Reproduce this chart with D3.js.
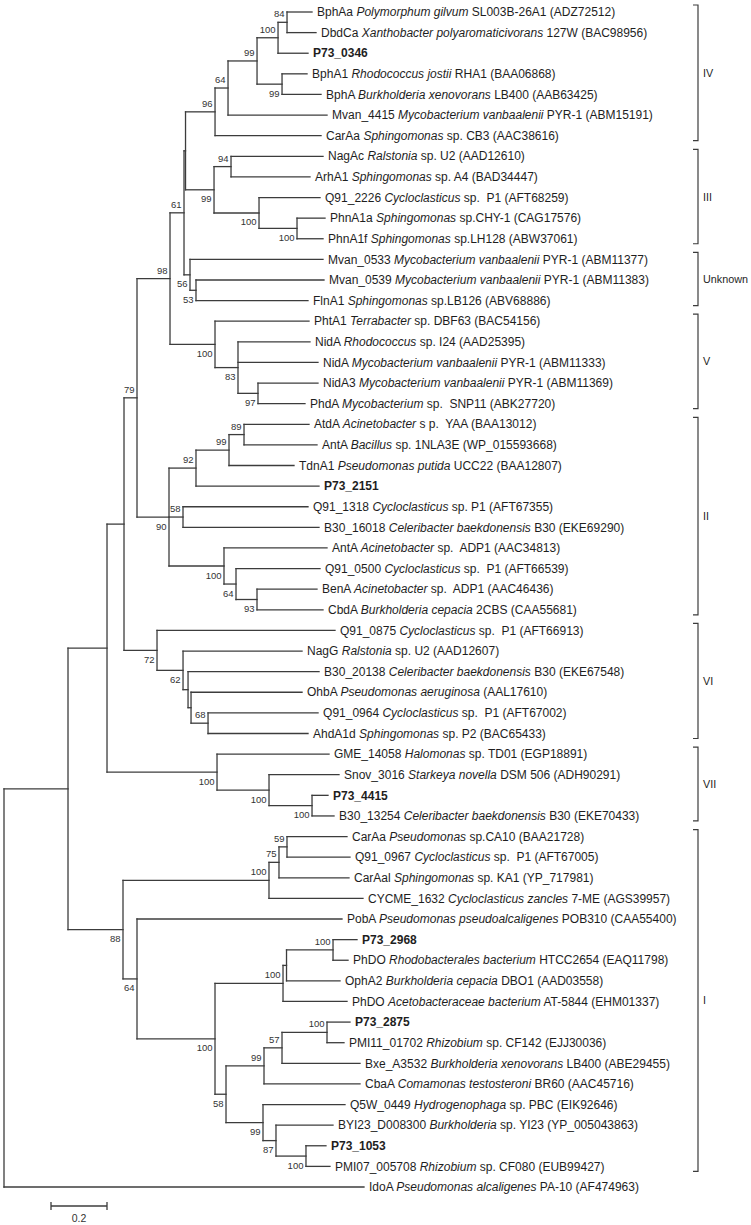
<!DOCTYPE html>
<html><head><meta charset="utf-8">
<script src="https://cdn.jsdelivr.net/npm/d3@7"></script>
<style>body{margin:0;background:#fff}svg{display:block}</style>
</head><body>
<script>
// ---------- DATA ----------
const leafGenes = ["BphAa","DbdCa","P73_0346","BphA1","BphA","Mvan_4415","CarAa","NagAc","ArhA1","Q91_2226","PhnA1a","PhnA1f","Mvan_0533","Mvan_0539","FlnA1","PhtA1","NidA","NidA","NidA3","PhdA","AtdA","AntA","TdnA1","P73_2151","Q91_1318","B30_16018","AntA","Q91_0500","BenA","CbdA","Q91_0875","NagG","B30_20138","OhbA","Q91_0964","AhdA1d","GME_14058","Snov_3016","P73_4415","B30_13254","CarAa","Q91_0967","CarAal","CYCME_1632","PobA","P73_2968","PhDO","OphA2","PhDO","P73_2875","PMI11_01702","Bxe_A3532","CbaA","Q5W_0449","BYI23_D008300","P73_1053","PMI07_005708","IdoA"];
const leafSpecies = ["Polymorphum gilvum","Xanthobacter polyaromaticivorans","","Rhodococcus jostii","Burkholderia xenovorans","Mycobacterium vanbaalenii","Sphingomonas","Ralstonia","Sphingomonas","Cycloclasticus","Sphingomonas","Sphingomonas","Mycobacterium vanbaalenii","Mycobacterium vanbaalenii","Sphingomonas","Terrabacter","Rhodococcus","Mycobacterium vanbaalenii","Mycobacterium vanbaalenii","Mycobacterium","Acinetobacter","Bacillus","Pseudomonas putida","","Cycloclasticus","Celeribacter baekdonensis","Acinetobacter","Cycloclasticus","Acinetobacter","Burkholderia cepacia","Cycloclasticus","Ralstonia","Celeribacter baekdonensis","Pseudomonas aeruginosa","Cycloclasticus","Sphingomonas","Halomonas","Starkeya novella","","Celeribacter baekdonensis","Pseudomonas","Cycloclasticus","Sphingomonas","Cycloclasticus zancles","Pseudomonas pseudoalcaligenes","","Rhodobacterales bacterium","Burkholderia cepacia","Acetobacteraceae bacterium","","Rhizobium","Burkholderia xenovorans","Comamonas testosteroni","Hydrogenophaga","Burkholderia","","Rhizobium","Pseudomonas alcaligenes"];
const leafStrains = ["SL003B-26A1 (ADZ72512)","127W (BAC98956)","","RHA1 (BAA06868)","LB400 (AAB63425)","PYR-1 (ABM15191)","sp. CB3 (AAC38616)","sp. U2 (AAD12610)","sp. A4 (BAD34447)","sp.  P1 (AFT68259)","sp.CHY-1 (CAG17576)","sp.LH128 (ABW37061)","PYR-1 (ABM11377)","PYR-1 (ABM11383)","sp.LB126 (ABV68886)","sp. DBF63 (BAC54156)","sp. I24 (AAD25395)","PYR-1 (ABM11333)","PYR-1 (ABM11369)","sp.  SNP11 (ABK27720)","s p.  YAA (BAA13012)","sp. 1NLA3E (WP_015593668)","UCC22 (BAA12807)","","sp. P1 (AFT67355)","B30 (EKE69290)","sp.  ADP1 (AAC34813)","sp.  P1 (AFT66539)","sp.  ADP1 (AAC46436)","2CBS (CAA55681)","sp.  P1 (AFT66913)","sp. U2 (AAD12607)","B30 (EKE67548)","(AAL17610)","sp.  P1 (AFT67002)","sp. P2 (BAC65433)","sp. TD01 (EGP18891)","DSM 506 (ADH90291)","","B30 (EKE70433)","sp.CA10 (BAA21728)","sp.  P1 (AFT67005)","sp. KA1 (YP_717981)","7-ME (AGS39957)","POB310 (CAA55400)","","HTCC2654 (EAQ11798)","DBO1 (AAD03558)","AT-5844 (EHM01337)","","sp. CF142 (EJJ30036)","LB400 (ABE29455)","BR60 (AAC45716)","sp. PBC (EIK92646)","sp. YI23 (YP_005043863)","","sp. CF080 (EUB99427)","PA-10 (AF474963)"];
const leafParents = ["n84","n84","n100a","n99b","n99b","n64a","n96","n94","n94","n100r","n100q","n100q","n56","n53","n53","n100V","n83","n83","n97","n97","n89","n89","n99c","n92","n58a","n58a","n100b","n64b","n93","n93","n72","n62","n188","n191","n68b","n68b","n100VII","n100c","n100d","n100d","n59","n59","n75","n100CarA","n64I","n100e","n100e","n286","n100PhDO","n100f","n100f","n57","n99d","n99e","n87","n100g","n100g","root"];
const leafLengths = [0.0893,0.1036,0.1071,0.0893,0.1393,0.3536,0.3786,0.3286,0.2821,0.2179,0.1,0.0929,0.475,0.4571,0.4,0.3357,0.2571,0.2857,0.2143,0.1679,0.2321,0.2607,0.2321,0.4393,0.4464,0.4857,0.3679,0.3,0.2143,0.2357,0.6357,0.425,0.4679,0.3964,0.3929,0.3571,0.4,0.25,0.0571,0.0786,0.2143,0.225,0.25,0.3357,0.7321,0.0857,0.0536,0.1911,0.2286,0.0821,0.0607,0.2786,0.3429,0.2929,0.2036,0.0714,0.0857,1.2857];

const internalIds     = ["root","n68","n107","n124","n79","n98","n61","nX","n96","n64a","n99a","n100a","n84","n99b","n99III","n94","n100r","n100q","n56","n53","n100V","n83","n97","n90","n92","n99c","n89","n58a","n100b","n64b","n93","n72","n62","n188","n191","n68b","n100VII","n100c","n100d","n88","n100CarA","n75","n59","n64I","n100big","n100PhDO","n286","n100e","n58b","n99d","n57","n100f","n99e","n87","n100g"];
const internalParents = ["","root","n68","n107","n124","n79","n98","n61","nX","n96","n64a","n99a","n100a","n99a","nX","n99III","n99III","n100r","n61","n56","n98","n100V","n83","n79","n90","n92","n99c","n90","n90","n100b","n64b","n124","n72","n62","n188","n191","n107","n100VII","n100c","n68","n88","n100CarA","n75","n88","n64I","n100big","n100PhDO","n286","n100big","n58b","n99d","n57","n58b","n99e","n87"];
const internalLengths = [0,0.2286,0.1393,0.0607,0.0464,0.1179,0.05,0.0054,0.1054,0.0464,0.1036,0.075,0.0321,0.0893,0.1018,0.0607,0.1607,0.1357,0.0214,0.0214,0.1607,0.0821,0.0714,0.1143,0.0964,0.1179,0.0536,0.05,0.1964,0.0429,0.075,0.1179,0.0929,0.0179,0.0107,0.0607,0.3929,0.1857,0.1536,0.1964,0.5214,0.0357,0.0286,0.05,0.2786,0.2429,0.0125,0.1661,0.0393,0.1357,0.0643,0.1607,0.1321,0.0464,0.1071];
const internalSupport = [null,null,null,null,79,98,61,null,96,64,99,100,84,99,99,94,100,100,56,53,100,83,97,90,92,99,89,58,100,64,93,72,62,null,null,68,100,100,100,88,100,75,59,64,100,100,null,100,58,99,57,100,99,87,100];
const supportBelowIds = ["n99b","n99III","n100r","n100q","n56","n53","n100V","n83","n97","n90","n100b","n64b","n93","n72","n62","n100VII","n100c","n100d","n88","n64I","n100big","n58b","n99e","n87","n100g"];

const groupNames = ["IV","III","Unknown","V","II","VI","VII","I"];
const groupFirst = [0,7,12,15,20,30,36,40];
const groupLast  = [6,11,14,19,29,35,39,56];
const scaleBarValue = 0.2;

// ---------- BUILD ----------
const W = 751, H = 1225;
const FONT = "Liberation Sans, Arial, sans-serif";
const svg = d3.select("body").append("svg").attr("width", W).attr("height", H);
const rows = internalIds.map((id,i)=>({id, parent: internalParents[i], len: internalLengths[i], support: internalSupport[i]}))
  .concat(leafGenes.map((g,i)=>({id:"L"+i, parent: leafParents[i], len: leafLengths[i], index:i})));
const root = d3.stratify().id(d=>d.id).parentId(d=>d.parent || null)(rows);
root.eachAfter(n => { n.minIdx = n.children ? d3.min(n.children, c=>c.minIdx) : n.data.index; });
root.sort((a,b)=>a.minIdx-b.minIdx);
root.eachBefore(n => { n.dist = n.parent ? n.parent.dist + n.data.len : 0; });

const x = d3.scaleLinear().domain([0,1]).range([4,284]);
const y = d3.scaleLinear().domain([0, leafGenes.length-1]).range([12, 1187]);
root.eachAfter(n => {
  n.py = n.children ? (n.children[0].py + n.children[n.children.length-1].py)/2 : y(n.data.index);
  n.px = x(n.dist);
});

const stroke = "#3c3c3c";
const g = svg.append("g").attr("stroke", stroke).attr("stroke-width", 1.3).attr("fill","none").attr("stroke-linecap","square");
root.descendants().forEach(n => {
  if (n.parent) g.append("line").attr("x1", n.parent.px).attr("x2", n.px).attr("y1", n.py).attr("y2", n.py);
  if (n.children) g.append("line").attr("x1", n.px).attr("x2", n.px)
      .attr("y1", n.children[0].py).attr("y2", n.children[n.children.length-1].py);
});

// support values
const below = new Set(supportBelowIds);
svg.append("g").selectAll("text")
  .data(root.descendants().filter(n => n.children && n.data.support != null))
  .join("text")
  .attr("x", n => n.px - 2.5)
  .attr("y", n => below.has(n.id) ? n.py + 12.5 : n.py - 5)
  .attr("text-anchor","end")
  .attr("font-family", FONT)
  .attr("font-size", 9.5).attr("fill","#333")
  .text(n => n.data.support);

// leaf labels
const lt = svg.append("g").attr("font-family", FONT).attr("font-size",12).attr("fill","#1e1e1e");
root.leaves().forEach(n => {
  const i = n.data.index;
  const t = lt.append("text").attr("x", n.px + 5).attr("y", n.py + 4.2).attr("xml:space","preserve");
  if (!leafSpecies[i] && !leafStrains[i]) {
    t.attr("font-weight","bold").text(leafGenes[i]);
  } else {
    t.append("tspan").text(leafGenes[i] + " ");
    t.append("tspan").attr("font-style","italic").text(leafSpecies[i]);
    t.append("tspan").text(" " + leafStrains[i]);
  }
});

// group brackets
const bx = 698, bt = 5;
const bg = svg.append("g");
groupNames.forEach((name,i) => {
  const y0 = y(groupFirst[i]) - 7, y1 = y(groupLast[i]) + 5;
  bg.append("path").attr("d", `M${bx-bt},${y0}H${bx}V${y1}H${bx-bt}`)
    .attr("fill","none").attr("stroke","#3c3c3c").attr("stroke-width",1.2);
  bg.append("text").attr("x", bx + 5).attr("y", (y0+y1)/2 + 4)
    .attr("font-family", FONT).attr("font-size",10.8).attr("fill","#1e1e1e").text(name);
});

// scale bar
const sbY = 1206, sbX0 = 51;
const sb = svg.append("g").attr("stroke", stroke).attr("stroke-width",1.3);
const sbX1 = sbX0 + (x(scaleBarValue) - x(0));
sb.append("line").attr("x1", sbX0).attr("x2", sbX1).attr("y1", sbY).attr("y2", sbY);
sb.append("line").attr("x1", sbX0).attr("x2", sbX0).attr("y1", sbY-4).attr("y2", sbY+4);
sb.append("line").attr("x1", sbX1).attr("x2", sbX1).attr("y1", sbY-4).attr("y2", sbY+4);
svg.append("text").attr("x", (sbX0+sbX1)/2).attr("y", sbY + 16).attr("text-anchor","middle")
  .attr("font-family", FONT).attr("font-size",10.5).attr("fill","#333").text(scaleBarValue);
</script>
</body></html>
